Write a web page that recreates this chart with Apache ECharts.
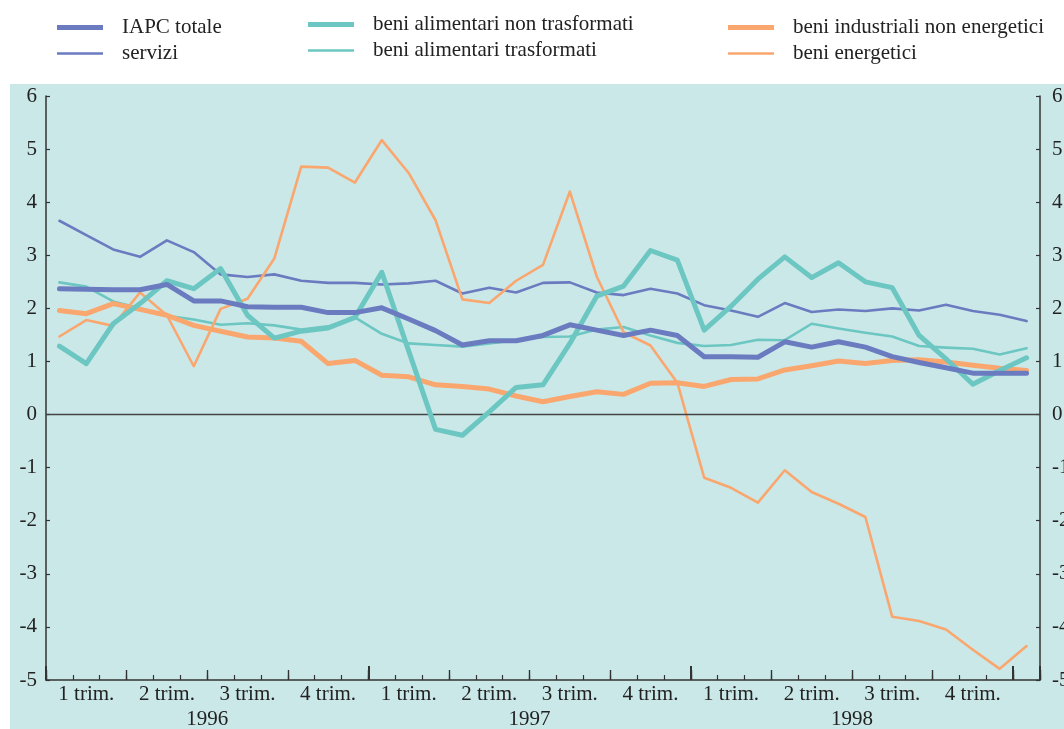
<!DOCTYPE html>
<html>
<head>
<meta charset="utf-8">
<script src="https://cdn.jsdelivr.net/npm/echarts@6/dist/echarts.min.js"></script>
<style>html,body{margin:0;padding:0;background:#fff;}#c{width:1064px;height:729px;}</style>
</head>
<body>
<div id="c"></div>
<script>
const months = ['gen 1996','feb 1996','mar 1996','apr 1996','mag 1996','giu 1996','lug 1996','ago 1996','set 1996','ott 1996','nov 1996','dic 1996',
  'gen 1997','feb 1997','mar 1997','apr 1997','mag 1997','giu 1997','lug 1997','ago 1997','set 1997','ott 1997','nov 1997','dic 1997',
  'gen 1998','feb 1998','mar 1998','apr 1998','mag 1998','giu 1998','lug 1998','ago 1998','set 1998','ott 1998','nov 1998','dic 1998',
  'gen 1999'];
const quarterLabels = ['1 trim.','2 trim.','3 trim.','4 trim.'];
const yearLabels = ['1996','1997','1998'];
const yTicks = [-5,-4,-3,-2,-1,0,1,2,3,4,5,6];

const iapcTotale = [2.37,2.36,2.35,2.35,2.45,2.14,2.14,2.03,2.02,2.02,1.92,1.92,2.01,1.80,1.58,1.31,1.39,1.39,1.49,1.69,1.59,1.49,1.59,1.49,1.09,1.09,1.08,1.37,1.27,1.37,1.27,1.09,0.98,0.88,0.78,0.78,0.78];
const servizi = [3.65,3.38,3.11,2.97,3.28,3.06,2.64,2.59,2.64,2.52,2.48,2.48,2.45,2.47,2.52,2.28,2.39,2.30,2.48,2.49,2.30,2.25,2.37,2.28,2.06,1.96,1.84,2.10,1.93,1.98,1.95,2.00,1.96,2.07,1.95,1.88,1.76];
const alimNonTrasf = [1.29,0.96,1.71,2.09,2.52,2.37,2.75,1.87,1.44,1.57,1.63,1.83,2.68,1.20,-0.28,-0.39,0.05,0.51,0.56,1.34,2.23,2.42,3.09,2.91,1.59,2.04,2.55,2.97,2.58,2.86,2.50,2.39,1.49,1.05,0.57,0.83,1.07];
const alimTrasf = [2.49,2.41,2.13,2.00,1.86,1.79,1.69,1.72,1.68,1.60,1.66,1.83,1.52,1.34,1.31,1.28,1.34,1.40,1.46,1.47,1.60,1.65,1.49,1.35,1.29,1.31,1.41,1.40,1.71,1.62,1.54,1.47,1.29,1.26,1.24,1.13,1.25];
const industrNonEnerg = [1.96,1.90,2.09,1.98,1.87,1.68,1.57,1.46,1.44,1.38,0.96,1.02,0.74,0.71,0.56,0.53,0.48,0.35,0.24,0.34,0.43,0.38,0.59,0.60,0.53,0.66,0.67,0.84,0.92,1.01,0.96,1.02,1.03,0.99,0.93,0.87,0.83];
const energetici = [1.47,1.78,1.67,2.30,1.87,0.91,1.99,2.18,2.94,4.67,4.65,4.37,5.17,4.55,3.66,2.17,2.10,2.52,2.82,4.20,2.60,1.55,1.30,0.60,-1.19,-1.38,-1.66,-1.05,-1.46,-1.68,-1.93,-3.81,-3.89,-4.05,-4.43,-4.79,-4.36];

const BLUE = '#6A7BC0', TEAL = '#6CC7C2', ORANGE = '#F9A76F';
const FONT = 'Liberation Serif';
const TXT = '#222';
const AX = '#333';
const FS = 21;

const chart = echarts.init(document.getElementById('c'), null, {renderer: 'canvas'});

function legendItem(name, left, top, h) {
  return {
    data: [name], left: left, top: top, padding: 0, icon: 'rect',
    itemWidth: 46, itemHeight: h, selectedMode: false,
    itemStyle: {borderWidth: 0},
    textStyle: {fontFamily: FONT, fontSize: FS, color: TXT, lineHeight: 20, padding: [0, 0, 0, 14]}
  };
}

function lineSeries(name, data, color, width, z, extra) {
  return Object.assign({
    name: name, type: 'line', data: data, xAxisIndex: 0, yAxisIndex: 0,
    symbol: 'none', showSymbol: false, smooth: false, color: color, z: z,
    lineStyle: {color: color, width: width, join: 'round', cap: 'round'},
    emphasis: {disabled: true}, animation: false
  }, extra || {});
}

const labelBase = {fontFamily: FONT, fontSize: FS, color: TXT};

const option = {
  animation: false,
  graphic: [{type: 'rect', shape: {x: 10, y: 84, width: 1054, height: 645}, style: {fill: '#CBE8E8'}, z: -10, silent: true}],
  legend: [
    legendItem('IAPC totale', 57, 17, 5),
    legendItem('servizi', 57, 43, 2.5),
    legendItem('beni alimentari non trasformati', 308, 14, 5),
    legendItem('beni alimentari trasformati', 308, 40, 2.5),
    legendItem('beni industriali non energetici', 728, 17, 5),
    legendItem('beni energetici', 728, 43, 2.5)
  ],
  grid: {left: 46, right: 24, top: 96, bottom: 49, containLabel: false, outerBoundsMode: 'none'},
  xAxis: [
    {type: 'category', data: months, boundaryGap: true, position: 'bottom',
     axisLine: {show: true, onZero: false, lineStyle: {color: AX, width: 1.5}},
     axisTick: {show: true, inside: true, length: 5, interval: 0, lineStyle: {color: AX, width: 1.2}},
     axisLabel: {show: false}, splitLine: {show: false}},
    {type: 'category', data: months, boundaryGap: true, position: 'bottom',
     axisLine: {show: false, onZero: false},
     axisTick: {show: true, inside: true, length: 10, interval: function (i) { return i % 3 === 0; }, lineStyle: {color: AX, width: 1.4}},
     axisLabel: Object.assign({show: true, margin: 4, interval: function (i) { return i % 3 === 1; },
       formatter: function (v, i) { return quarterLabels[Math.floor(i / 3) % 4]; }}, labelBase),
     splitLine: {show: false}},
    {type: 'category', data: months, boundaryGap: true, position: 'bottom',
     axisLine: {show: false, onZero: false},
     axisTick: {show: true, inside: true, length: 14, interval: function (i) { return i % 12 === 0; }, lineStyle: {color: AX, width: 2}},
     axisLabel: {show: false}, splitLine: {show: false}},
    {type: 'value', min: 0, max: 37, interval: 6, position: 'bottom',
     axisLine: {show: false, onZero: false}, axisTick: {show: false}, splitLine: {show: false},
     axisLabel: Object.assign({show: true, margin: 29, showMinLabel: true, showMaxLabel: true,
       formatter: function (v) { return (v % 12 === 6 && v < 36) ? yearLabels[(v - 6) / 12] : ''; }}, labelBase)}
  ],
  yAxis: [
    {type: 'value', min: yTicks[0], max: yTicks[yTicks.length - 1], interval: 1, position: 'left',
     axisLine: {show: true, onZero: false, lineStyle: {color: AX, width: 1.5}},
     axisTick: {show: true, inside: true, length: 4, lineStyle: {color: AX, width: 1.2}},
     axisLabel: Object.assign({margin: 9}, labelBase), splitLine: {show: false}},
    {type: 'value', min: yTicks[0], max: yTicks[yTicks.length - 1], interval: 1, position: 'right',
     axisLine: {show: true, onZero: false, lineStyle: {color: AX, width: 1.5}},
     axisTick: {show: true, inside: true, length: 4, lineStyle: {color: AX, width: 1.2}},
     axisLabel: Object.assign({margin: 12}, labelBase), splitLine: {show: false}}
  ],
  series: [
    lineSeries('servizi', servizi, BLUE, 2.6, 2, {
      markLine: {silent: true, symbol: ['none', 'none'], label: {show: false}, animation: false,
        lineStyle: {color: '#444', width: 1.3, type: 'solid'}, emphasis: {disabled: true},
        data: [{yAxis: 0}]}
    }),
    lineSeries('beni alimentari trasformati', alimTrasf, TEAL, 2.6, 3),
    lineSeries('beni energetici', energetici, ORANGE, 2.6, 4),
    lineSeries('beni industriali non energetici', industrNonEnerg, ORANGE, 5, 5),
    lineSeries('beni alimentari non trasformati', alimNonTrasf, TEAL, 5, 6),
    lineSeries('IAPC totale', iapcTotale, BLUE, 5, 7)
  ]
};
chart.setOption(option);
</script>
</body>
</html>
